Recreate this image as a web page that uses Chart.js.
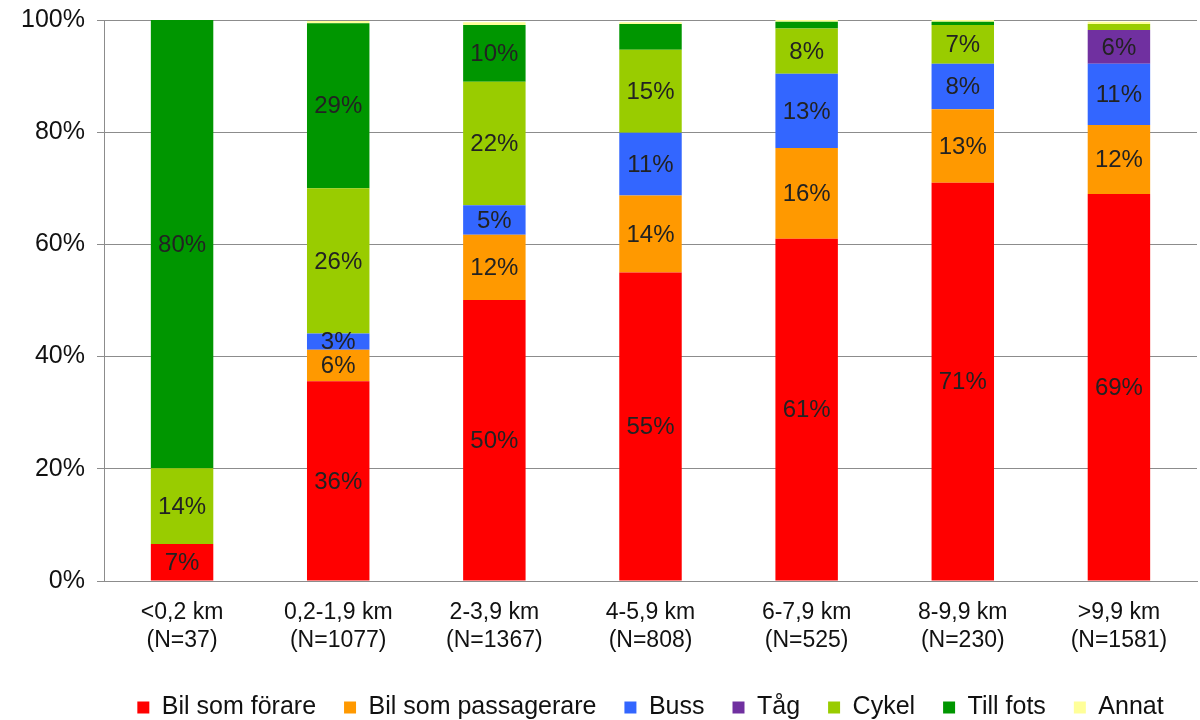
<!DOCTYPE html>
<html>
<head>
<meta charset="utf-8">
<script src="https://cdn.jsdelivr.net/npm/chart.js@4"></script>
<style>
  html, body { margin: 0; padding: 0; background: #fff; }
  #wrap { width: 1200px; height: 720px; }
</style>
</head>
<body>
<div id="wrap"><canvas id="chart" width="1200" height="720"></canvas></div>
<script>
// distance bands, with number of trips
const categories = [
    ['<0,2 km', '(N=37)'],
    ['0,2-1,9 km', '(N=1077)'],
    ['2-3,9 km', '(N=1367)'],
    ['4-5,9 km', '(N=808)'],
    ['6-7,9 km', '(N=525)'],
    ['8-9,9 km', '(N=230)'],
    ['>9,9 km', '(N=1581)']
];

// share of trips per mode (%)
const bilForare      = [6.6, 35.6, 50.1, 55.0, 61.0, 71.0, 69.0];
const bilPassagerare = [0, 5.6, 11.6, 13.7, 16.2, 13.1, 12.3];
const buss           = [0, 2.9, 5.3, 11.2, 13.2, 8.1, 10.9];
const tag            = [0, 0, 0, 0, 0, 0, 6.0];
const cykel          = [13.5, 25.9, 22.0, 14.8, 8.1, 6.9, 1.1];
const tillFots       = [79.9, 29.4, 10.1, 4.6, 1.2, 0.6, 0];
const annat          = [0, 0.4, 0.5, 0.3, 0.3, 0.3, 0.4];

const yTicks = [0, 20, 40, 60, 80, 100];

const seriesNames = ['Bil som förare', 'Bil som passagerare', 'Buss', 'Tåg', 'Cykel', 'Till fots', 'Annat'];
const seriesColors = ['#FF0000', '#FF9900', '#3366FF', '#7030A0', '#99CC00', '#009600', '#FFFF99'];
const seriesData = [bilForare, bilPassagerare, buss, tag, cykel, tillFots, annat];

const FONT = '"Liberation Sans", Arial, sans-serif';

// write the rounded percentage in the middle of each segment
const segmentLabels = {
    id: 'segmentLabels',
    afterDatasetsDraw(chart) {
        const ctx = chart.ctx;
        ctx.save();
        ctx.font = '24px ' + FONT;
        ctx.fillStyle = '#222';
        ctx.textAlign = 'center';
        ctx.textBaseline = 'middle';
        chart.data.datasets.forEach((ds, i) => {
            const meta = chart.getDatasetMeta(i);
            meta.data.forEach((bar, j) => {
                const v = ds.data[j];
                if (v < 2.5) return;
                if (ds.label === 'Till fots' && v < 5) return; // not labelled in the original
                const mid = (bar.y + bar.base) / 2;
                ctx.fillText(Math.round(v) + '%', bar.x, mid + 1);
            });
        });
        ctx.restore();
    }
};

const datasets = seriesNames.map((name, i) => ({
    label: name,
    data: seriesData[i],
    backgroundColor: seriesColors[i],
    borderWidth: 0,
    categoryPercentage: 1.0,
    barPercentage: 0.4
}));

const ctx = document.getElementById('chart').getContext('2d');
new Chart(ctx, {
    type: 'bar',
    data: { labels: categories, datasets: datasets },
    plugins: [segmentLabels],
    options: {
        responsive: false,
        animation: false,
        layout: { padding: { left: 0, right: 3, top: 20, bottom: -10 } },
        plugins: {
            tooltip: { enabled: false },
            legend: {
                position: 'bottom',
                fullSize: false,
                labels: {
                    boxWidth: 12,
                    boxHeight: 12,
                    padding: 28,
                    color: '#111',
                    font: { size: 25, family: FONT }
                }
            }
        },
        scales: {
            x: {
                stacked: true,
                grid: { display: false },
                border: { color: '#8c8c8c' },
                afterFit: s => { s.height = 86; },
                ticks: {
                    color: '#111',
                    padding: 10,
                    font: { size: 23, family: FONT }
                }
            },
            y: {
                stacked: true,
                min: 0,
                max: 100,
                afterBuildTicks: axis => { axis.ticks = yTicks.map(v => ({ value: v })); },
                afterFit: s => { s.width = 104; s.paddingTop = 0; s.paddingBottom = 0; },
                grid: { color: '#8c8c8c', tickLength: 7 },
                border: { color: '#8c8c8c' },
                ticks: {
                    color: '#111',
                    padding: 12,
                    callback: v => v + '%',
                    font: { size: 25, family: FONT }
                }
            }
        }
    }
});
</script>
</body>
</html>
